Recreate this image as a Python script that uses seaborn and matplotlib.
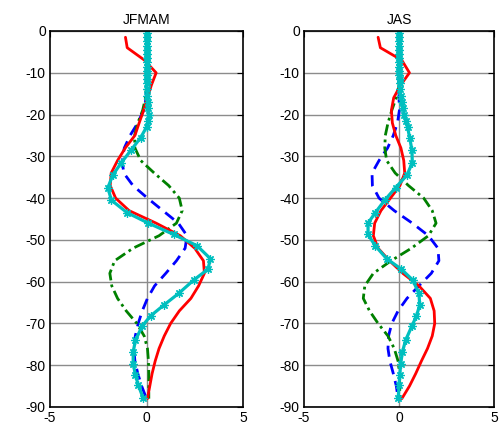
import numpy as np
import pandas as pd
import matplotlib
matplotlib.use("Agg")
import matplotlib.pyplot as plt
import seaborn as sns

# ---- data ----
depth = [-1.5, -4, -7, -10, -13, -16, -19, -22, -25, -28, -31, -34, -37, -40, -43,
         -46, -49, -52, -55, -58, -61, -64, -67, -70, -73, -76, -79, -82, -85, -88]

red_jfmam = [-1.09, -1.0, -0.1, 0.5, 0.25, 0.05, -0.15, -0.38, -0.6, -1.1, -1.5, -1.83, -1.88, -1.6, -0.9,
             0.5, 1.75, 2.5, 2.95, 3.0, 2.7, 2.3, 1.7, 1.25, 0.92, 0.65, 0.45, 0.29, 0.17, 0.05]
blue_jfmam = [0, 0, 0, 0, 0, -0.02, -0.15, -0.45, -0.85, -1.15, -1.26, -1.18, -0.7, 0.05, 0.85,
              1.65, 2.1, 2.0, 1.55, 1.0, 0.42, 0.05, -0.22, -0.43, -0.58, -0.66, -0.6, -0.45, -0.25, 0.0]
green_jfmam = [0, 0, 0, 0, 0, -0.05, -0.2, -0.45, -0.62, -0.6, -0.3, 0.4, 1.15, 1.7, 1.85,
               1.55, 0.65, -0.7, -1.65, -1.9, -1.8, -1.5, -1.05, -0.5, -0.12, 0.05, 0.1, 0.12, 0.12, 0.12]

red_jas = [-1.1, -0.98, 0.15, 0.55, 0.08, -0.28, -0.4, -0.35, -0.17, 0.1, 0.25, 0.3, 0.05, -0.45, -0.95,
           -1.28, -1.35, -1.1, -0.5, 0.2, 1.05, 1.65, 1.85, 1.88, 1.75, 1.5, 1.18, 0.88, 0.55, 0.15]
blue_jas = [0, 0, 0, 0, 0, 0, 0.02, -0.08, -0.3, -0.6, -1.05, -1.42, -1.4, -1.05, -0.25,
            0.7, 1.55, 2.05, 2.1, 1.7, 1.05, 0.42, -0.05, -0.38, -0.55, -0.58, -0.48, -0.3, -0.14, -0.05]
green_jas = [0, 0, 0, 0, 0, -0.15, -0.38, -0.58, -0.72, -0.75, -0.65, -0.2, 0.5, 1.3, 1.75,
             1.95, 1.55, 0.65, -0.42, -1.35, -1.8, -1.88, -1.55, -1.1, -0.58, -0.25, -0.05, 0.03, 0.04, 0.04]

cyan_depth = [-0.5, -1.5, -2.5, -3.5, -4.5, -5.5, -6.5, -7.5, -8.5, -9.5, -10.5, -11.5, -12.5, -14,
              -15.5, -17, -18.5, -20, -21.5, -23, -25.5, -28.5, -31.5, -34.5, -37.5, -40.5, -43.5,
              -46, -48.7, -51.4, -54.5, -57, -59.6, -62.8, -65.6, -68.2, -70.6, -74, -76.8, -79.6,
              -82.4, -84.7, -87.9]
cyan_jfmam = [0, 0, 0, 0, 0, 0, 0, 0, 0, 0, 0, 0, 0.02, 0.03,
              0.05, 0.08, 0.1, 0.12, 0.1, 0.0, -0.3, -0.8, -1.3, -1.75, -2.0, -1.82, -1.0,
              0.1, 1.41, 2.62, 3.31, 3.19, 2.45, 1.67, 0.9, 0.21, -0.22, -0.57, -0.69, -0.69,
              -0.57, -0.43, -0.17]
cyan_jas = [0.02, 0.02, 0.02, 0.02, 0.02, 0.02, 0.02, 0.02, 0.02, 0.02, 0.02, 0.03, 0.04, 0.05,
            0.08, 0.15, 0.22, 0.28, 0.35, 0.45, 0.56, 0.68, 0.7, 0.42, -0.18, -0.75, -1.25,
            -1.63, -1.63, -1.25, -0.65, 0.12, 0.72, 1.05, 1.09, 0.92, 0.68, 0.35, 0.18, 0.09,
            0.04, 0.0, -0.04]

titles = ["JFMAM", "JAS"]
yticks = [0, -10, -20, -30, -40, -50, -60, -70, -80, -90]
xticks = [-5, 0, 5]

# ---- plot ----
sns.set_style("white")
plt.rcParams['font.family'] = ['Liberation Sans', 'DejaVu Sans']
plt.rcParams['text.color'] = 'black'
plt.rcParams['xtick.color'] = 'black'
plt.rcParams['ytick.color'] = 'black'
plt.rcParams['axes.unicode_minus'] = False

fig = plt.figure(figsize=(4.99, 4.26), dpi=100)
ax1 = fig.add_axes([50/499, 1-407/426, 193/499, 376/426])
ax2 = fig.add_axes([304/499, 1-407/426, 190/499, 376/426])

panels = [
    (ax1, red_jfmam, blue_jfmam, green_jfmam, cyan_jfmam),
    (ax2, red_jas, blue_jas, green_jas, cyan_jas),
]

for (ax, r, b, g, c), title in zip(panels, titles):
    for y in yticks:
        ax.axhline(y, color='#8c8c8c', lw=1.0, zorder=0)
    ax.axvline(0, color='#8c8c8c', lw=1.0, zorder=0)
    sns.lineplot(x=b, y=depth, sort=False, estimator=None, ax=ax, color='#0000ff',
                 lw=2, linestyle=(0, (4, 2.5)))
    sns.lineplot(x=g, y=depth, sort=False, estimator=None, ax=ax, color='#008000',
                 lw=2, linestyle=(0, (4, 1.5, 1, 1.5)))
    sns.lineplot(x=r, y=depth, sort=False, estimator=None, ax=ax, color='#ff0000', lw=2)
    sns.lineplot(x=c, y=cyan_depth, sort=False, estimator=None, ax=ax, color='#00bfbf',
                 lw=2.3, marker=(8, 2, 0), markersize=6, markeredgewidth=0.9,
                 markeredgecolor='#00bfbf')
    ax.set_xlim(-5, 5)
    ax.set_ylim(-90, 0)
    ax.set_xticks(xticks)
    ax.set_yticks(yticks)
    ax.set_title(title, fontsize=10, pad=5, color='black')
    ax.tick_params(direction='in', top=True, right=True, length=4, labelsize=10, pad=3,
                   colors='black')
    for s in ax.spines.values():
        s.set_color('black')
        s.set_linewidth(1.2)
    ax.set_xlabel("")
    ax.set_ylabel("")

fig.savefig("out.png", dpi=100)
